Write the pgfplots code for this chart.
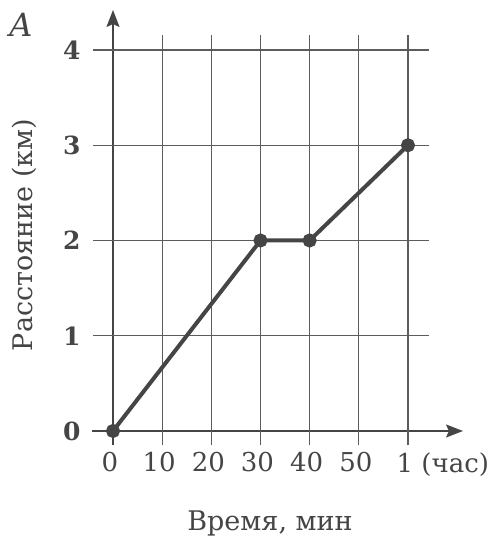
\documentclass[border=0pt]{standalone}
\usepackage{fontspec}
\setmainfont{DejaVu Serif}
\usepackage{pgfplots}
\pgfplotsset{compat=1.18}
\usetikzlibrary{arrows.meta}
\definecolor{ink}{HTML}{454545}
\definecolor{gridc}{HTML}{5C5C5C}
\begin{document}
\begin{tikzpicture}
\useasboundingbox (0,0) rectangle (246pt,270pt);
\node[font=\fontsize{16}{18}\selectfont\itshape, text=ink] at (10.5pt,257.5pt) {A};
\node[font=\fontsize{13.5}{15}\selectfont, text=ink, rotate=90] at (12pt,152.5pt) {Расстояние (км)};
\node[font=\fontsize{13.5}{15}\selectfont, text=ink] at (135pt,8.5pt) {Время, мин};
\begin{axis}[
  at={(56.5pt,54.5pt)}, anchor=origin,
  x=2.458pt, y=47.625pt,
  xmin=-4.3, xmax=71.2, ymin=-0.15, ymax=4.42,
  axis lines=middle,
  axis line style={draw=ink, line width=0.9pt, -{Stealth[length=8.5pt,width=6.5pt,inset=1.5pt]}},
  clip=false,
  major tick length=0pt,
  hide obscured x ticks=false,
  hide obscured y ticks=false,
  xtick={0,10,20,30,40,50,60},
  xticklabels={0,10,20,30,40,50,{1\rlap{ (час)}}},
  ytick={0,1,2,3,4},
  yticklabels={0,1,2,3,4},
  xticklabel style={font=\fontsize{13}{15}\selectfont, text=ink, anchor=north, inner sep=0pt, yshift=-10.5pt, xshift=-1.5pt},
  yticklabel style={font=\fontsize{12.5}{14}\selectfont\bfseries, text=ink, anchor=east, inner sep=0pt, xshift=-16pt},
  /pgf/number format/assume math mode=true,
]
\pgfplotsinvokeforeach{10,20,30,40,50,60}{
  \draw[gridc, line width=0.6pt] (axis cs:#1,-0.15) -- (axis cs:#1,4.16);
}
\pgfplotsinvokeforeach{1,2,3,4}{
  \draw[gridc, line width=0.6pt] (axis cs:-4.07,#1) -- (axis cs:64.3,#1);
}
\addplot[ink, line width=2pt, mark=*, mark size=2.5pt, mark options={fill=ink, draw=ink}]
  coordinates {(0,0) (30,2) (40,2) (60,3)};
\end{axis}
\end{tikzpicture}
\end{document}
